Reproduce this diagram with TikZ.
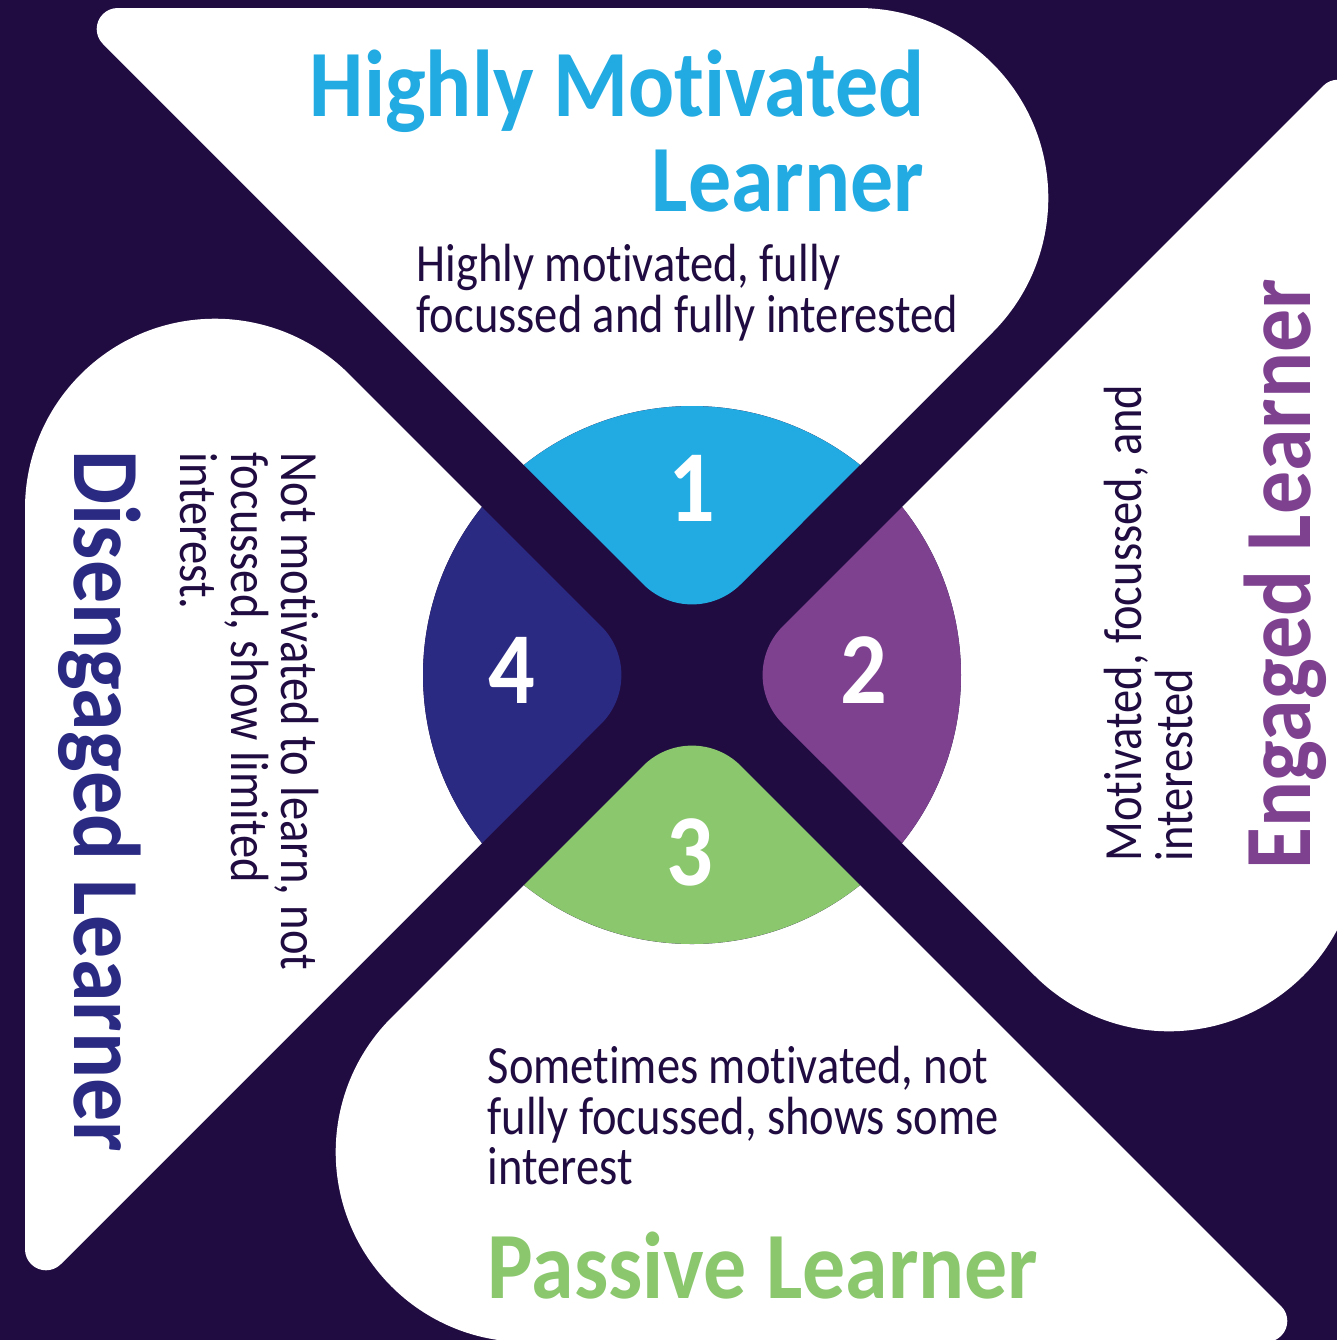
\documentclass[tikz,border=0pt]{standalone}
\usepackage{fontspec}
\setmainfont{Carlito}[Ligatures=NoCommon, FakeStretch=0.865, BoldFeatures={FakeStretch=0.905}]
\definecolor{bgdark}{HTML}{200C41}
\definecolor{lcyan}{HTML}{21ABE2}
\definecolor{lpurple}{HTML}{7E4190}
\definecolor{lgreen}{HTML}{8BC76D}
\definecolor{lnavy}{HTML}{2B2A83}

\begin{document}
\begin{tikzpicture}[x=0.1mm, y=-0.1mm,
    title/.style={font=\bfseries\fontsize{27}{27}\selectfont, inner sep=0pt},
    blurb/.style={font=\fontsize{15.3}{14.5}\selectfont, text=bgdark, inner sep=0pt, align=left},
    num/.style={font=\bfseries\fontsize{29}{29}\selectfont, text=white, inner sep=0pt}]
    \def\petal{(0,-42) -- (-589.15,-631.15) arc[start angle=135, end angle=270, radius=21]
        -- (166.3,-667) arc[start angle=-90, end angle=45, radius=190] -- cycle}
    \def\piece{(-168.05,-210.05) arc[start angle=-128.66, end angle=-51.34, radius=269]
        -- (48.8,-90.8) arc[start angle=45, end angle=135, radius=69] -- cycle}
    \clip (0,0) rectangle (1337,1340);
    \fill[bgdark] (0,0) rectangle (1337,1340);
    \begin{scope}[shift={(692,675)}]
        \fill[white] \petal;
        \fill[white, rotate=90] \petal;
        \fill[white, rotate=180] \petal;
        \fill[white, rotate=-90] \petal;
        \fill[bgdark] (0,0) circle[radius=269];
        \fill[lcyan] \piece;
        \fill[lnavy, rotate=90] \piece;
        \fill[lgreen, rotate=180] \piece;
        \fill[lpurple, rotate=-90] \piece;
        \node[num] (n1) at (0,-187) {1};
        \node[num] (n2) at (172,-5) {2};
        \node[num] (n3) at (-2,177) {3};
        \node[num] (n4) at (-180,-5) {4};
    \end{scope}
    \node[title, text=lcyan, align=right, anchor=north east] (hmt) at (925,49) {Highly Motivated\\Learner};
    \node[blurb, anchor=north west] (hmb) at (416,243) {Highly motivated, fully\\focussed and fully interested};
    \node[title, text=lpurple, rotate=90, anchor=base west] (elt) at (1310,870) {Engaged Learner};
    \node[blurb, rotate=90, anchor=north west] (elb) at (1103,862) {Motivated, focussed, and\\interested};
    \node[blurb, anchor=north west] (plb) at (487,1045) {Sometimes motivated, not\\fully focussed, shows some\\interest};
    \node[title, text=lgreen, anchor=base west] (plt) at (487,1298) {Passive Learner};
    \node[title, text=lnavy, rotate=-90, anchor=base west] (dlt) at (75,450) {Disengaged Learner};
    \node[blurb, rotate=-90, anchor=north west] (dlb) at (320,452) {Not motivated to learn, not\\focussed, show limited\\interest.};
\end{tikzpicture}
\end{document}
